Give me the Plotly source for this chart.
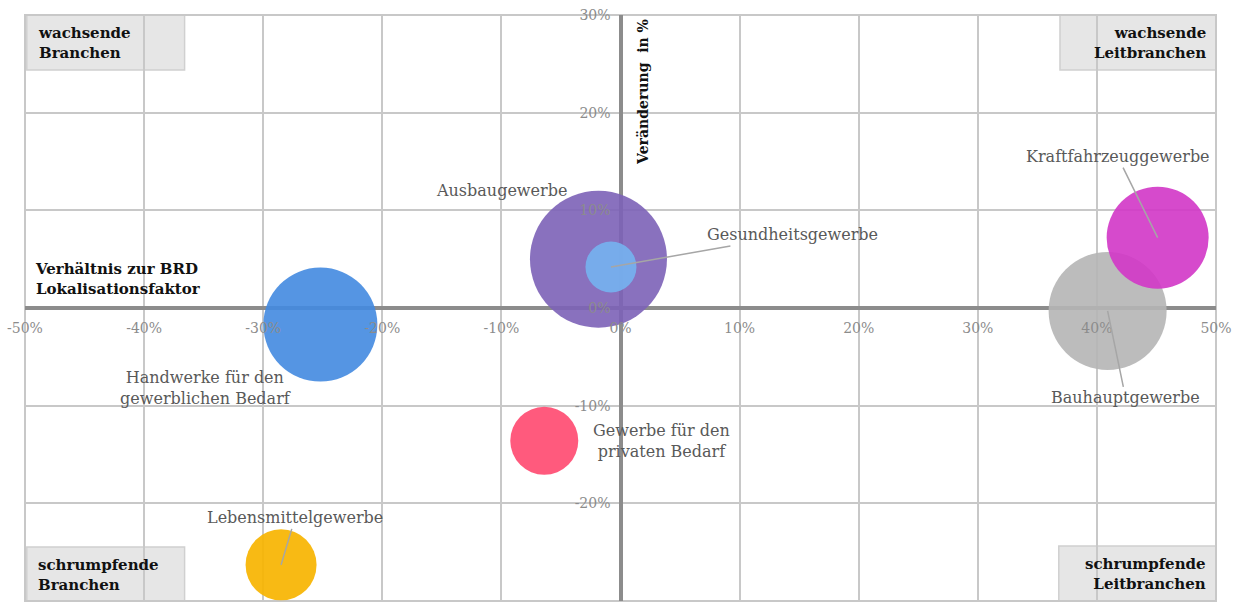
import plotly.graph_objects as go

# ---------------- data ----------------
branchen = [
    "Handwerke für den<br>gewerblichen Bedarf",
    "Ausbaugewerbe",
    "Gesundheitsgewerbe",
    "Gewerbe für den<br>privaten Bedarf",
    "Lebensmittelgewerbe",
    "Bauhauptgewerbe",
    "Kraftfahrzeuggewerbe",
]
lokalisation = [-25.2, -1.85, -0.8, -6.4, -28.5, 40.9, 45.1]   # x, %
veraenderung = [-1.7, 5.0, 4.2, -13.6, -26.3, -0.3, 7.2]       # y, %
groesse = [114, 137, 51, 68, 71, 118, 102]                      # bubble size

x_ticks = [-50, -40, -30, -20, -10, 0, 10, 20, 30, 40, 50]
x_ticklabels = ["-50%", "-40%", "-30%", "-20%", "-10%", "0%", "10%", "20%", "30%", "40%", "50%"]
y_ticks = [-30, -20, -10, 0, 10, 20, 30]
y_ticklabels = ["-30%", "-20%", "-10%", "0%", "10%", "20%", "30%"]

# ---------------- styles ----------------
colors = [
    "rgba(66,137,224,0.9)",
    "rgba(124,98,183,0.9)",
    "rgba(118,178,240,0.9)",
    "rgba(255,72,111,0.9)",
    "rgba(247,180,0,0.92)",
    "rgba(181,181,181,0.9)",
    "rgba(209,54,198,0.9)",
]
FONT = "DejaVu Serif"
LABEL_COLOR = "#595959"
GRID = "#c8c8c8"

fig = go.Figure()
fig.add_trace(go.Scatter(
    x=lokalisation, y=veraenderung, mode="markers",
    marker=dict(size=groesse, sizemode="diameter", sizeref=1, opacity=1,
                color=colors, line=dict(width=0)),
    hoverinfo="skip", showlegend=False,
))

# label placement: (showarrow, dx, dy) in pixels from bubble centre
placements = [
    (False, -115, -63),
    (False, -97, 69),
    (True, 182, -32),
    (False, 117, 0),
    (True, 14, -47),
    (True, 18, 87),
    (True, -40, -81),
]
for name, xv, yv, (arrow, dx, dy) in zip(branchen, lokalisation, veraenderung, placements):
    if arrow:
        fig.add_annotation(x=xv, y=yv, text=name, showarrow=True, ax=dx, ay=dy,
                           arrowhead=0, arrowwidth=1.5, arrowcolor="#a6a6a6", standoff=0,
                           font=dict(family=FONT, size=16, color=LABEL_COLOR), align="center")
    else:
        fig.add_annotation(x=xv, y=yv, text=name, showarrow=False, xshift=dx, yshift=dy,
                           font=dict(family=FONT, size=16, color=LABEL_COLOR), align="center")

# quadrant boxes
boxes = [
    (0.0015, 0.134, 0.906, 1.0),
    (0.869, 1.0, 0.906, 1.0),
    (0.0015, 0.134, 0.0, 0.092),
    (0.868, 1.0, 0.0, 0.094),
]
for x0, x1, y0, y1 in boxes:
    fig.add_shape(type="rect", xref="paper", yref="paper", x0=x0, x1=x1, y0=y0, y1=y1,
                  fillcolor="#e6e6e6", line=dict(color="#d0d0d0", width=1.5), layer="below")

qfont = dict(family=FONT, size=15, color="#111111")
fig.add_annotation(xref="paper", yref="paper", x=0.0095, y=0.953, xanchor="left", yanchor="middle",
                   text="<b>wachsende<br>Branchen</b>", showarrow=False, align="left", font=qfont)
fig.add_annotation(xref="paper", yref="paper", x=0.993, y=0.953, xanchor="right", yanchor="middle",
                   text="<b>wachsende<br>Leitbranchen</b>", showarrow=False, align="right", font=qfont)
fig.add_annotation(xref="paper", yref="paper", x=0.0095, y=0.044, xanchor="left", yanchor="middle",
                   text="<b>schrumpfende<br>Branchen</b>", showarrow=False, align="left", font=qfont)
fig.add_annotation(xref="paper", yref="paper", x=0.993, y=0.046, xanchor="right", yanchor="middle",
                   text="<b>schrumpfende<br>Leitbranchen</b>", showarrow=False, align="right", font=qfont)

# axis titles
fig.add_annotation(xref="paper", yref="paper", x=0.0065, y=0.514, xanchor="left", yanchor="bottom",
                   text="<b>Verhältnis zur BRD<br>Lokalisationsfaktor</b>", showarrow=False,
                   align="left", font=qfont)
fig.add_annotation(xref="paper", yref="paper", x=0.519, y=0.869, xanchor="center", yanchor="middle",
                   text="<b>Veränderung\u00a0 in %</b>", showarrow=False, textangle=-90,
                   font=dict(family=FONT, size=14, color="#111111"))

# border
fig.add_shape(type="rect", xref="paper", yref="paper", x0=0, x1=1, y0=0, y1=1,
              line=dict(color=GRID, width=2), layer="below")

fig.update_layout(
    width=1236, height=606,
    margin=dict(l=25, r=20, t=15, b=5),
    plot_bgcolor="white", paper_bgcolor="white",
    font=dict(family=FONT),
    xaxis=dict(range=[-50, 50], tickmode="array", tickvals=x_ticks, ticktext=x_ticklabels,
               showgrid=True, gridcolor=GRID, gridwidth=2,
               zeroline=True, zerolinecolor="#8c8c8c", zerolinewidth=4,
               anchor="free", position=0.5, ticks="", ticklabelstandoff=10,
               tickfont=dict(family=FONT, size=14, color="#8c8c8c"), automargin=False,
               showline=False, fixedrange=True),
    yaxis=dict(range=[-30, 30], tickmode="array", tickvals=y_ticks, ticktext=y_ticklabels,
               showgrid=True, gridcolor=GRID, gridwidth=2,
               zeroline=True, zerolinecolor="#8c8c8c", zerolinewidth=4,
               anchor="free", position=0.5, ticks="", ticklabelstandoff=10,
               tickfont=dict(family=FONT, size=14, color="#8c8c8c"), automargin=False,
               showline=False, fixedrange=True),
)

fig.write_html("out.html")
